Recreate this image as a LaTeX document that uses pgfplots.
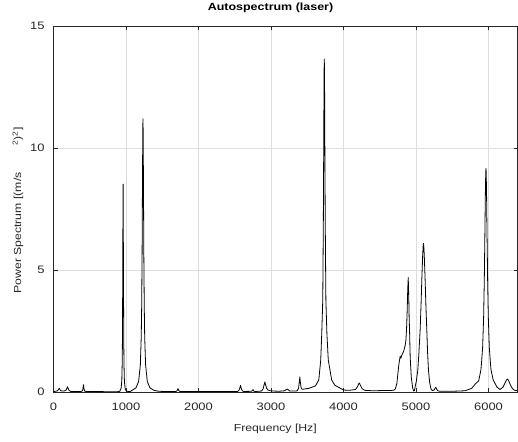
\documentclass[border=0pt]{standalone}
\usepackage{fontspec}
\setmainfont{Liberation Sans}[FakeStretch=1.2]
\usepackage{pgfplots}
\pgfplotsset{compat=1.18}
\definecolor{axc}{rgb}{0.15,0.15,0.15}
\begin{document}
\begin{tikzpicture}
\begin{axis}[
  at={(0,0)}, anchor=south west,
  scale only axis, width=464pt, height=366pt,
  xmin=0, xmax=6400, ymin=0, ymax=15,
  xtick={0,1000,...,6000}, ytick={0,5,10,15},
  scaled x ticks=false,
  /pgf/number format/assume math mode=true,
  /pgf/number format/1000 sep={},
  tick align=inside, xtick pos=both, ytick pos=both,
  major tick length=4pt,
  tick style={axc, line width=0.5pt},
  axis line style={axc, line width=0.6pt},
  grid=major, major grid style={black!13, line width=0.5pt},
  ticklabel style={font=\fontsize{10.8}{13}\selectfont, text=axc},
  xticklabel style={yshift=-7pt},
  yticklabel style={xshift=-5.4pt},
  label style={font=\fontsize{10.2}{12}\selectfont, text=axc},
  title style={font=\fontsize{10.4}{12}\selectfont\bfseries, text=black, at={(axis description cs:0.4677,1)}, anchor=base, yshift=9.3pt},
  title={Autospectrum (laser)},
  xlabel style={at={(axis description cs:0.478,0)}, anchor=base, yshift=-39.7pt},
  xlabel={Frequency [Hz]},
  ylabel style={at={(axis description cs:-0.0696,0.496)}, anchor=base},
  ylabel={Power Spectrum [(m/s\hspace{27pt}\textsuperscript{2})\textsuperscript{2}]},
]
\addplot[black, line width=0.8pt, line join=round] table {
x y
0 0.02
30 0.03
55 0.05
68 0.1
78 0.16
88 0.1
100 0.05
130 0.04
160 0.05
175 0.09
185 0.16
193 0.21
202 0.15
215 0.06
240 0.02
380 0.02
400 0.05
407 0.15
413 0.3
420 0.13
430 0.04
450 0.02
880 0.01
915 0.03
932 0.15
942 0.45
948 1.2
951 2.2
954 4.0
957 6.5
959 8.2
960 8.52
961 8.2
963 6.5
966 4.0
969 2.2
972 1.2
978 0.45
988 0.15
1005 0.03
1060 0.02
1084 0.07
1138 0.17
1174 0.43
1198 1.12
1210 2.24
1216 3.45
1222 5.6
1228 8.96
1232 10.8
1234 11.2
1236 10.8
1240 8.96
1246 5.6
1252 3.45
1258 2.24
1270 1.12
1294 0.43
1330 0.17
1384 0.07
1450 0.03
1550 0.02
1690 0.02
1705 0.06
1717 0.14
1728 0.06
1745 0.02
2540 0.02
2560 0.08
2572 0.18
2580 0.27
2590 0.15
2605 0.05
2625 0.02
2735 0.03
2745 0.08
2752 0.1
2762 0.04
2780 0.02
2870 0.04
2890 0.12
2905 0.3
2915 0.41
2925 0.3
2940 0.15
2960 0.08
2990 0.05
3100 0.03
3190 0.05
3210 0.1
3223 0.12
3238 0.09
3260 0.04
3340 0.04
3361 0.05
3380 0.15
3390 0.4
3398 0.62
3405 0.4
3415 0.18
3430 0.11
3521 0.15
3613 0.25
3659 0.49
3686 1.31
3700 2.4
3714 3.77
3722 7.0
3728 10.5
3732 13.1
3735 13.65
3738 13.1
3742 10.5
3748 7.0
3757 3.77
3771 2.4
3790 1.31
3837 0.49
3880 0.28
3934 0.19
4003 0.08
4080 0.07
4164 0.1
4190 0.2
4209 0.33
4219 0.37
4232 0.28
4255 0.14
4290 0.07
4400 0.05
4550 0.06
4650 0.06
4700 0.08
4714 0.12
4736 0.35
4760 1.04
4775 1.35
4782 1.47
4791 1.38
4805 1.52
4828 1.65
4850 1.9
4860 2.1
4870 2.6
4878 3.3
4886 4.2
4893 4.69
4900 3.9
4906 3.0
4911 2.54
4920 1.4
4935 0.6
4955 0.15
4968 0.04
4978 0.05
4989 0.22
5005 0.45
5025 0.9
5040 1.6
5057 2.54
5070 3.6
5080 4.59
5092 5.6
5099 6.0
5103 6.09
5107 6.0
5114 5.6
5126 4.59
5137 3.5
5149 2.54
5160 1.6
5172 0.9
5188 0.4
5204 0.15
5225 0.06
5250 0.08
5262 0.15
5272 0.19
5282 0.14
5298 0.05
5330 0.03
5500 0.03
5677 0.05
5768 0.15
5815 0.32
5865 0.46
5896 0.92
5905 1.25
5919 1.83
5933 3.1
5942 4.59
5950 6.43
5957 8.18
5962 9.0
5965 9.17
5968 9.0
5973 8.18
5980 6.43
5988 4.59
5997 3.1
6011 1.83
6025 1.25
6034 0.92
6065 0.49
6115 0.21
6158 0.1
6200 0.2
6230 0.38
6250 0.5
6263 0.53
6278 0.47
6300 0.3
6330 0.14
6360 0.07
6400 0.05
};
\end{axis}
\pgfresetboundingbox
\path (-53.5pt,-49pt) rectangle (464.5pt,392pt);
\end{tikzpicture}
\end{document}
